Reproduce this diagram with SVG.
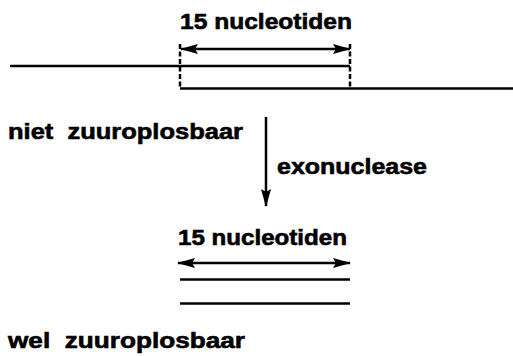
<svg xmlns="http://www.w3.org/2000/svg" width="513" height="356" viewBox="0 0 513 356">
<defs>
<style>
.t{font-family:"Liberation Sans",Arial,sans-serif;font-weight:bold;font-size:22px;fill:#000;stroke:#000;stroke-width:0.6}
.l{stroke:#000;stroke-width:2.5;fill:none}
.a{stroke:#000;stroke-width:2.5;fill:none}
.d{stroke:#000;stroke-width:2.5;fill:none;stroke-dasharray:5,2.5}
</style>
<marker id="ah" viewBox="0 0 18 10" refX="17" refY="5" markerWidth="18" markerHeight="10" markerUnits="userSpaceOnUse" orient="auto-start-reverse">
<path d="M0,0 L18,5 L0,10 L3,5 Z" fill="#000"/>
</marker>
</defs>
<g id="top-duplex">
<text class="t" x="180" y="29" textLength="172" lengthAdjust="spacingAndGlyphs">15 nucleotiden</text>
<line class="l" x1="10" y1="66" x2="350" y2="66"/>
<line class="l" x1="180" y1="88.5" x2="513" y2="88.5"/>
<line class="d" x1="180" y1="44" x2="180" y2="88"/>
<line class="d" x1="350" y1="44" x2="350" y2="88"/>
</g>
<g id="label-niet">
<text class="t" x="8" y="139" textLength="235" lengthAdjust="spacingAndGlyphs" xml:space="preserve">niet  zuuroplosbaar</text>
</g>
<g id="label-exo">
<text class="t" x="277" y="174" textLength="150" lengthAdjust="spacingAndGlyphs">exonuclease</text>
</g>
<g id="bottom-fragment">
<text class="t" x="178" y="245" textLength="169" lengthAdjust="spacingAndGlyphs">15 nucleotiden</text>
<line class="l" x1="180" y1="279.5" x2="350" y2="279.5"/>
<line class="l" x1="180" y1="303.5" x2="350" y2="303.5"/>
</g>
<g id="label-wel">
<text class="t" x="8" y="348" textLength="237" lengthAdjust="spacingAndGlyphs" xml:space="preserve">wel  zuuroplosbaar</text>
</g>
<g id="connectors">
<line class="a" x1="181" y1="49" x2="350" y2="49" marker-start="url(#ah)" marker-end="url(#ah)"/>
<line class="a" x1="178" y1="263" x2="350" y2="263" marker-start="url(#ah)" marker-end="url(#ah)"/>
<line class="a" x1="266" y1="117" x2="266" y2="206" marker-end="url(#ah)"/>
</g>
</svg>
